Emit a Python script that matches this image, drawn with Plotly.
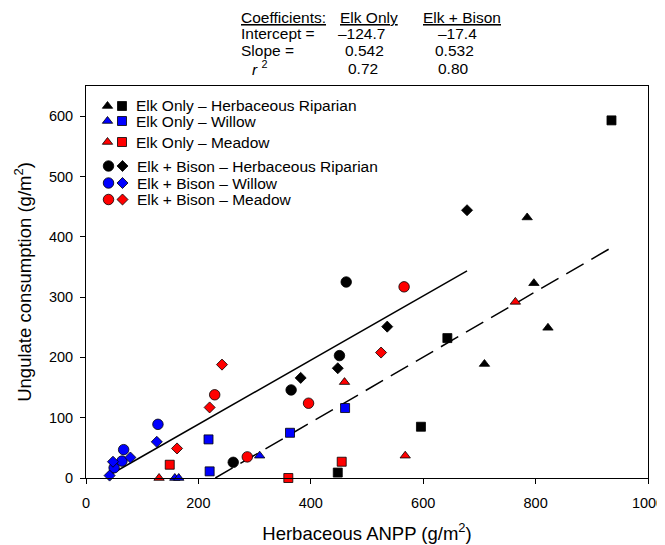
import plotly.graph_objects as go

# ---------------- data ----------------
# Elk Only
eo_hr_tri_x = [709, 785, 797, 822]
eo_hr_tri_y = [189, 432, 323, 249]
eo_hr_sq_x = [448, 596, 643, 935]
eo_hr_sq_y = [9, 85, 232, 593]
eo_w_tri_x = [158, 165, 309]
eo_w_tri_y = [0, 0, 37]
eo_w_sq_x = [218, 220, 363, 461]
eo_w_sq_y = [64, 11, 75, 116]
eo_m_tri_x = [130, 460, 568, 764]
eo_m_tri_y = [0, 159, 37, 292]
eo_m_sq_x = [149, 360, 455]
eo_m_sq_y = [22, 0, 27]

# Elk + Bison
eb_hr_circ_x = [262, 365, 451, 463]
eb_hr_circ_y = [26, 146, 203, 325]
eb_hr_dia_x = [382, 448, 536, 678]
eb_hr_dia_y = [166, 182, 251, 444]
eb_w_circ_x = [50, 64, 67, 128]
eb_w_circ_y = [17, 28, 47, 89]
eb_w_dia_x = [42, 48, 79, 126]
eb_w_dia_y = [4, 27, 34, 60]
eb_m_circ_x = [229, 287, 396, 566]
eb_m_circ_y = [138, 35, 124, 317]
eb_m_dia_x = [162, 220, 242, 525]
eb_m_dia_y = [49, 117, 188, 208]

# Regression coefficients
coef_groups = ["Elk Only", "Elk + Bison"]
intercepts = [-124.7, -17.4]
slopes = [0.542, 0.532]
r2_values = [0.72, 0.80]
fit_x_ranges = [[230.1, 935], [42, 678]]

legend_labels = [
    "Elk Only – Herbaceous Riparian",
    "Elk Only – Willow",
    "Elk Only – Meadow",
    "Elk + Bison – Herbaceous Riparian",
    "Elk + Bison – Willow",
    "Elk + Bison – Meadow",
]

FONT = "Liberation Sans, Arial, Helvetica, sans-serif"
BLACK, BLUE, RED = "#000000", "#0000ff", "#ff0000"

fig = go.Figure()

def pts(x, y, color, symbol, size):
    fig.add_trace(go.Scatter(
        x=x, y=y, mode="markers", showlegend=False, cliponaxis=False,
        marker=dict(color=color, symbol=symbol, size=size,
                    line=dict(color="#000000", width=0.8)),
        hoverinfo="x+y"))

# regression lines
for i, dash in enumerate(["20px,9px", "solid"]):
    xs = fit_x_ranges[i]
    ys = [intercepts[i] + slopes[i] * v for v in xs]
    fig.add_trace(go.Scatter(x=xs, y=ys, mode="lines", showlegend=False,
                             line=dict(color="black", width=1.5, dash=dash),
                             hoverinfo="skip"))

TRI, SQ, CI, DI = 9, 9, 10.5, 8.5
pts(eo_hr_tri_x, eo_hr_tri_y, BLACK, "triangle-up", TRI)
pts(eo_hr_sq_x, eo_hr_sq_y, BLACK, "square", SQ)
pts(eo_w_tri_x, eo_w_tri_y, BLUE, "triangle-up", TRI)
pts(eo_w_sq_x, eo_w_sq_y, BLUE, "square", SQ)
pts(eo_m_tri_x, eo_m_tri_y, RED, "triangle-up", TRI)
pts(eo_m_sq_x, eo_m_sq_y, RED, "square", SQ)
pts(eb_hr_circ_x, eb_hr_circ_y, BLACK, "circle", CI)
pts(eb_hr_dia_x, eb_hr_dia_y, BLACK, "diamond", DI)
pts(eb_w_circ_x, eb_w_circ_y, BLUE, "circle", CI)
pts(eb_w_dia_x, eb_w_dia_y, BLUE, "diamond", DI)
pts(eb_m_circ_x, eb_m_circ_y, RED, "circle", CI)
pts(eb_m_dia_x, eb_m_dia_y, RED, "diamond", DI)

# ---------------- layout geometry (screen pixels; page body has an 8px margin) ----------------
OFF = 8
L, R, T, B = 86, 648, 86, 478          # plot area as seen on screen
W, H = 665, 545

# ---------------- custom legend (overlay axis in screen pixel units) ----------------
row_y = [106, 121, 142, 166, 183, 199.5]
row_colors = [BLACK, BLUE, RED, BLACK, BLUE, RED]
row_syms = [("triangle-up", "square")] * 3 + [("circle", "diamond")] * 3
row_sizes = [(TRI, SQ)] * 3 + [(CI, DI)] * 3
sym_x = [(107.5, 122), (107.5, 122), (107.5, 122),
         (108.5, 122.5), (108.5, 122.5), (108.5, 122.5)]
text_x = [134, 134, 134, 135, 135, 135]

def pann(x, y, text, anchor="left", size=15.5):
    fig.add_annotation(x=(x - L) / (R - L), y=(B - y) / (B - T),
                       xref="paper", yref="paper",
                       text=text, showarrow=False, xanchor=anchor,
                       yanchor="middle",
                       font=dict(family=FONT, size=size, color="black"))

for i in range(6):
    for j in range(2):
        fig.add_trace(go.Scatter(
            x=[sym_x[i][j]], y=[row_y[i]], xaxis="x2", yaxis="y2",
            mode="markers", showlegend=False, hoverinfo="skip",
            marker=dict(color=row_colors[i], symbol=row_syms[i][j],
                        size=row_sizes[i][j],
                        line=dict(color="#000000", width=0.8))))
    pann(text_x[i], row_y[i], legend_labels[i])

# ---------------- coefficients table ----------------
tbl_rows_y = [17, 33.5, 50.5, 68]
col_label_x = 239
head_x = [369, 461.5]
icpt_x = [361, 457.5]
slope_x = [364, 454]
r2_x = [363, 453.5]

pann(col_label_x, tbl_rows_y[0], "<u>Coefficients:</u>")
pann(col_label_x, tbl_rows_y[1], "Intercept =")
pann(col_label_x, tbl_rows_y[2], "Slope =")
pann(col_label_x + 11, tbl_rows_y[3], "<i>r</i> <sup>2</sup>")
for k in range(2):
    pann(head_x[k], tbl_rows_y[0], "<u>" + coef_groups[k] + "</u>", "center")
    pann(icpt_x[k], tbl_rows_y[1], "–%.1f" % abs(intercepts[k]), "center")
    pann(slope_x[k], tbl_rows_y[2], "%.3f" % slopes[k], "center")
    pann(r2_x[k], tbl_rows_y[3], "%.2f" % r2_values[k], "center")

fig.update_layout(
    width=W, height=H,
    margin=dict(l=L - OFF, r=W - (R - OFF), t=T - OFF, b=H - (B - OFF),
                autoexpand=False),
    paper_bgcolor="white", plot_bgcolor="white",
    font=dict(family=FONT, size=14, color="black"),
    xaxis=dict(range=[0, 1000], tickvals=[0, 200, 400, 600, 800, 1000],
               ticks="outside", ticklen=5, tickwidth=1, tickcolor="black",
               showline=True, linecolor="black", linewidth=1, mirror=True,
               showgrid=False, zeroline=False, automargin=False,
               ticklabelstandoff=7,
               tickfont=dict(family=FONT, size=14.5),
               title=dict(text="Herbaceous ANPP (g/m<sup>2</sup>)",
                          font=dict(family=FONT, size=18.5), standoff=16)),
    yaxis=dict(range=[0, 650], tickvals=[0, 100, 200, 300, 400, 500, 600],
               ticks="outside", ticklen=5, tickwidth=1, tickcolor="black",
               showline=True, linecolor="black", linewidth=1, mirror=True,
               showgrid=False, zeroline=False, automargin=False,
               ticklabelstandoff=4,
               tickfont=dict(family=FONT, size=14.5),
               title=dict(text="Ungulate consumption (g/m<sup>2</sup>)",
                          font=dict(family=FONT, size=18.5), standoff=12)),
    xaxis2=dict(overlaying="x", range=[L, R], visible=False, fixedrange=True),
    yaxis2=dict(overlaying="y", range=[B, T], visible=False, fixedrange=True),
)

fig.write_html("out.html")
